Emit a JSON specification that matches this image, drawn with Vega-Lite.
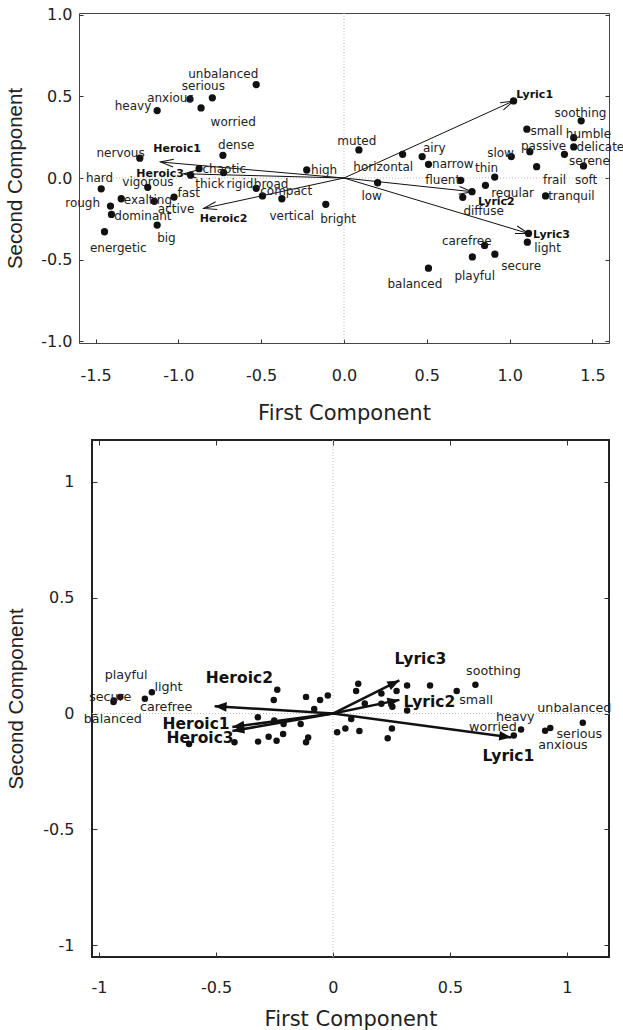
{
  "$schema": "https://vega.github.io/schema/vega-lite/v6.json",
  "padding": {"left": 5, "top": 6, "right": 0, "bottom": 0},
  "spacing": 14,
  "config": {
    "font": "DejaVu Sans",
    "view": {"stroke": null},
    "axis": {"grid": false, "domain": false, "labelFont": "DejaVu Sans", "labelColor": "#222", "tickColor": "#333", "titleColor": "#222", "titleFontWeight": "normal", "labelOverlap": false, "labelFlush": false}
  },
  "datasets": {
    "top": [
      {"w": "unbalanced", "x": -0.53, "y": 0.572, "lx": -0.729, "ly": 0.638},
      {"w": "serious", "x": -0.795, "y": 0.491, "lx": -0.849, "ly": 0.564},
      {"w": "anxious", "x": -0.93, "y": 0.483, "lx": -1.048, "ly": 0.491},
      {"w": "worried", "x": -0.863, "y": 0.429, "lx": -0.669, "ly": 0.344},
      {"w": "heavy", "x": -1.128, "y": 0.413, "lx": -1.274, "ly": 0.442},
      {"w": "dense", "x": -0.731, "y": 0.139, "lx": -0.651, "ly": 0.202},
      {"w": "nervous", "x": -1.233, "y": 0.121, "lx": -1.349, "ly": 0.153},
      {"w": "chaotic", "x": -0.875, "y": 0.057, "lx": -0.723, "ly": 0.055},
      {"w": "thick", "x": -0.926, "y": 0.017, "lx": -0.81, "ly": -0.039},
      {"w": "rigid", "x": -0.727, "y": 0.033, "lx": -0.628, "ly": -0.039},
      {"w": "broad", "x": -0.53, "y": -0.063, "lx": -0.44, "ly": -0.039},
      {"w": "compact", "x": -0.492, "y": -0.11, "lx": -0.349, "ly": -0.08},
      {"w": "vertical", "x": -0.375, "y": -0.127, "lx": -0.315, "ly": -0.233},
      {"w": "high", "x": -0.225, "y": 0.049, "lx": -0.12, "ly": 0.049},
      {"w": "hard", "x": -1.466, "y": -0.066, "lx": -1.476, "ly": 0.002},
      {"w": "vigorous", "x": -1.185, "y": -0.057, "lx": -1.184, "ly": -0.022},
      {"w": "fast", "x": -1.026, "y": -0.117, "lx": -0.937, "ly": -0.092},
      {"w": "exalting", "x": -1.345, "y": -0.127, "lx": -1.184, "ly": -0.135},
      {"w": "active", "x": -1.145, "y": -0.143, "lx": -1.014, "ly": -0.19},
      {"w": "rough", "x": -1.41, "y": -0.172, "lx": -1.578, "ly": -0.153},
      {"w": "dominant", "x": -1.404, "y": -0.223, "lx": -1.214, "ly": -0.233},
      {"w": "energetic", "x": -1.446, "y": -0.329, "lx": -1.363, "ly": -0.428},
      {"w": "big", "x": -1.128, "y": -0.288, "lx": -1.072, "ly": -0.37},
      {"w": "bright", "x": -0.11, "y": -0.161, "lx": -0.036, "ly": -0.253},
      {"w": "muted", "x": 0.09, "y": 0.172, "lx": 0.077, "ly": 0.227},
      {"w": "horizontal", "x": 0.354, "y": 0.145, "lx": 0.237, "ly": 0.069},
      {"w": "airy", "x": 0.472, "y": 0.131, "lx": 0.545, "ly": 0.186},
      {"w": "narrow", "x": 0.51, "y": 0.084, "lx": 0.657, "ly": 0.084},
      {"w": "fluent", "x": 0.705, "y": -0.014, "lx": 0.596, "ly": -0.014},
      {"w": "thin", "x": 0.91, "y": 0.006, "lx": 0.861, "ly": 0.063},
      {"w": "slow", "x": 1.01, "y": 0.131, "lx": 0.945, "ly": 0.153},
      {"w": "small", "x": 1.104, "y": 0.299, "lx": 1.223, "ly": 0.288},
      {"w": "passive", "x": 1.122, "y": 0.161, "lx": 1.205, "ly": 0.196},
      {"w": "humble", "x": 1.387, "y": 0.247, "lx": 1.476, "ly": 0.27},
      {"w": "soothing", "x": 1.432, "y": 0.35, "lx": 1.428, "ly": 0.399},
      {"w": "delicate", "x": 1.387, "y": 0.19, "lx": 1.548, "ly": 0.19},
      {"w": "serene", "x": 1.331, "y": 0.145, "lx": 1.482, "ly": 0.104},
      {"w": "soft", "x": 1.446, "y": 0.074, "lx": 1.462, "ly": -0.014},
      {"w": "frail", "x": 1.163, "y": 0.069, "lx": 1.271, "ly": -0.014},
      {"w": "tranquil", "x": 1.217, "y": -0.11, "lx": 1.373, "ly": -0.11},
      {"w": "regular", "x": 0.854, "y": -0.045, "lx": 1.018, "ly": -0.092},
      {"w": "diffuse", "x": 0.717, "y": -0.118, "lx": 0.843, "ly": -0.202},
      {"w": "light", "x": 1.107, "y": -0.393, "lx": 1.229, "ly": -0.428},
      {"w": "carefree", "x": 0.849, "y": -0.413, "lx": 0.741, "ly": -0.387},
      {"w": "playful", "x": 0.775, "y": -0.483, "lx": 0.789, "ly": -0.597},
      {"w": "secure", "x": 0.911, "y": -0.466, "lx": 1.07, "ly": -0.54},
      {"w": "balanced", "x": 0.51, "y": -0.552, "lx": 0.428, "ly": -0.648},
      {"w": "low", "x": 0.203, "y": -0.029, "lx": 0.167, "ly": -0.11},
      {"x": 1.024, "y": 0.472},
      {"x": 0.773, "y": -0.084},
      {"x": 1.114, "y": -0.339}
    ],
    "topvec": [
      {"v": "Heroic1", "x": -1.108, "y": 0.098, "lx": -1.008, "ly": 0.178},
      {"v": "Heroic2", "x": -0.847, "y": -0.186, "lx": -0.727, "ly": -0.253},
      {"v": "Heroic3", "x": -0.968, "y": 0.026, "lx": -1.11, "ly": 0.026},
      {"v": "Lyric1", "x": 1.024, "y": 0.472, "lx": 1.151, "ly": 0.509},
      {"v": "Lyric2", "x": 0.773, "y": -0.084, "lx": 0.92, "ly": -0.147},
      {"v": "Lyric3", "x": 1.114, "y": -0.34, "lx": 1.253, "ly": -0.35}
    ],
    "bot": [
      {"w": "secure", "x": -0.937, "y": 0.056, "lx": -0.952, "ly": 0.071},
      {"w": "balanced", "x": -0.938, "y": 0.05, "lx": -0.941, "ly": -0.023},
      {"w": "playful", "x": -0.909, "y": 0.071, "lx": -0.884, "ly": 0.165},
      {"w": "light", "x": -0.774, "y": 0.092, "lx": -0.703, "ly": 0.114},
      {"w": "carefree", "x": -0.804, "y": 0.064, "lx": -0.713, "ly": 0.027},
      {"w": "soothing", "x": 0.609, "y": 0.124, "lx": 0.686, "ly": 0.182},
      {"w": "small", "x": 0.529, "y": 0.097, "lx": 0.612, "ly": 0.059},
      {"w": "worried", "x": 0.773, "y": -0.095, "lx": 0.684, "ly": -0.059},
      {"w": "heavy", "x": 0.804, "y": -0.069, "lx": 0.779, "ly": -0.013},
      {"w": "anxious", "x": 0.907, "y": -0.074, "lx": 0.983, "ly": -0.135},
      {"w": "serious", "x": 0.929, "y": -0.062, "lx": 1.053, "ly": -0.088},
      {"w": "unbalanced", "x": 1.068, "y": -0.04, "lx": 1.032, "ly": 0.025},
      {"x": -0.615, "y": -0.131}, {"x": -0.421, "y": -0.124}, {"x": -0.321, "y": -0.016},
      {"x": -0.32, "y": -0.121}, {"x": -0.275, "y": -0.1}, {"x": -0.253, "y": 0.059},
      {"x": -0.238, "y": 0.103}, {"x": -0.251, "y": -0.03}, {"x": -0.211, "y": -0.045},
      {"x": -0.241, "y": -0.117}, {"x": -0.213, "y": -0.088}, {"x": -0.138, "y": -0.045},
      {"x": -0.115, "y": 0.072}, {"x": -0.08, "y": 0.02}, {"x": -0.055, "y": 0.059},
      {"x": -0.022, "y": 0.078}, {"x": -0.106, "y": -0.103}, {"x": -0.115, "y": -0.124},
      {"x": 0.018, "y": -0.081}, {"x": 0.053, "y": -0.064}, {"x": 0.078, "y": -0.023},
      {"x": 0.113, "y": -0.075}, {"x": 0.108, "y": 0.129}, {"x": 0.099, "y": 0.097},
      {"x": 0.136, "y": 0.043}, {"x": 0.207, "y": 0.087}, {"x": 0.207, "y": 0.042},
      {"x": 0.254, "y": 0.029}, {"x": 0.272, "y": 0.097}, {"x": 0.317, "y": 0.121},
      {"x": 0.317, "y": 0.013}, {"x": 0.415, "y": 0.121}, {"x": 0.252, "y": -0.064},
      {"x": 0.234, "y": -0.106}
    ],
    "botvec": [
      {"v": "Heroic1", "x": -0.43, "y": -0.058, "lx": -0.585, "ly": -0.045},
      {"v": "Heroic2", "x": -0.506, "y": 0.032, "lx": -0.4, "ly": 0.155},
      {"v": "Heroic3", "x": -0.43, "y": -0.075, "lx": -0.568, "ly": -0.106},
      {"v": "Lyric1", "x": 0.762, "y": -0.103, "lx": 0.75, "ly": -0.182},
      {"v": "Lyric2", "x": 0.284, "y": 0.059, "lx": 0.412, "ly": 0.049},
      {"v": "Lyric3", "x": 0.284, "y": 0.143, "lx": 0.374, "ly": 0.237}
    ]
  },
  "vconcat": [
    {
      "width": 530,
      "height": 330,
      "view": {"stroke": "#444", "strokeWidth": 1},
      "resolve": {"axis": {"x": "independent", "y": "independent"}},
      "layer": [
        {
          "data": {"values": [{"zero": 0}]},
          "mark": {"type": "rule", "color": "#bbb", "strokeDash": [1, 2], "strokeWidth": 1},
          "encoding": {"x": {"field": "zero", "type": "quantitative", "scale": {"domain": [-1.6, 1.6], "nice": false, "zero": false}, "axis": null}}
        },
        {
          "data": {"values": [{"zero": 0}]},
          "mark": {"type": "rule", "color": "#bbb", "strokeDash": [1, 2], "strokeWidth": 1},
          "encoding": {"y": {"field": "zero", "type": "quantitative", "scale": {"domain": [-1.01, 1.01], "nice": false, "zero": false}, "axis": null}}
        },
        {
          "data": {"name": "topvec"},
          "mark": {"type": "rule", "color": "#111", "strokeWidth": 1},
          "encoding": {
            "x": {"field": "x", "type": "quantitative", "scale": {"domain": [-1.6, 1.6], "nice": false, "zero": false}, "axis": null},
            "y": {"field": "y", "type": "quantitative", "scale": {"domain": [-1.01, 1.01], "nice": false, "zero": false},
                  "axis": {"orient": "right", "labels": false, "title": null, "values": [-1, -0.5, 0, 0.5, 1], "tickSize": -4}},
            "x2": {"datum": 0},
            "y2": {"datum": 0}
          }
        },
        {
          "data": {"name": "topvec"},
          "transform": [{"calculate": "-atan2(datum.y, datum.x) * 180 / PI", "as": "ang"}],
          "mark": {"type": "point", "shape": "M-1,-0.3L0,0L-1,0.3", "filled": false, "stroke": "#111", "strokeWidth": 1, "size": 676, "opacity": 1},
          "encoding": {
            "x": {"field": "x", "type": "quantitative", "scale": {"domain": [-1.6, 1.6], "nice": false, "zero": false}, "axis": null},
            "y": {"field": "y", "type": "quantitative", "scale": {"domain": [-1.01, 1.01], "nice": false, "zero": false}, "axis": null},
            "angle": {"field": "ang", "type": "quantitative", "scale": null}
          }
        },
        {
          "data": {"name": "top"},
          "mark": {"type": "circle", "color": "#111", "size": 53, "opacity": 1},
          "encoding": {
            "x": {"field": "x", "type": "quantitative", "scale": {"domain": [-1.6, 1.6], "nice": false, "zero": false},
                  "axis": {"orient": "bottom", "values": [-1.5, -1, -0.5, 0, 0.5, 1, 1.5], "labelExpr": "(datum.value < 0 ? '-' : '') + format(abs(datum.value), '.1f')", "tickSize": -4, "labelPadding": 28, "labelFontSize": 16, "title": "First Component", "titleFontSize": 21, "titlePadding": 19}},
            "y": {"field": "y", "type": "quantitative", "scale": {"domain": [-1.01, 1.01], "nice": false, "zero": false},
                  "axis": {"orient": "left", "values": [-1, -0.5, 0, 0.5, 1], "labelExpr": "(datum.value < 0 ? '-' : '') + format(abs(datum.value), '.1f')", "tickSize": -4, "labelPadding": 11, "labelFontSize": 16, "title": "Second Component", "titleFont": "Liberation Sans", "titleFontSize": 20.5, "titlePadding": 15}}
          }
        },
        {
          "data": {"name": "top"},
          "transform": [{"filter": "isValid(datum.w)"}],
          "mark": {"type": "text", "fontSize": 12, "color": "#222"},
          "encoding": {
            "x": {"field": "lx", "type": "quantitative", "scale": {"domain": [-1.6, 1.6], "nice": false, "zero": false}, "axis": null},
            "y": {"field": "ly", "type": "quantitative", "scale": {"domain": [-1.01, 1.01], "nice": false, "zero": false}, "axis": null},
            "text": {"field": "w"}
          }
        },
        {
          "data": {"name": "topvec"},
          "mark": {"type": "text", "fontSize": 11, "fontWeight": "bold", "color": "#111"},
          "encoding": {
            "x": {"field": "lx", "type": "quantitative", "scale": {"domain": [-1.6, 1.6], "nice": false, "zero": false}, "axis": null},
            "y": {"field": "ly", "type": "quantitative", "scale": {"domain": [-1.01, 1.01], "nice": false, "zero": false}, "axis": null},
            "text": {"field": "v"}
          }
        }
      ]
    },
    {
      "bounds": "flush",
      "spacing": 12,
      "hconcat": [
        {
          "width": 1,
          "height": 1,
          "data": {"values": []},
          "mark": {"type": "point", "opacity": 0}
        },
        {
          "width": 517,
          "height": 517,
          "view": {"stroke": "#222", "strokeWidth": 2},
          "resolve": {"axis": {"x": "independent", "y": "independent"}},
          "layer": [
            {
              "data": {"values": [{"zero": 0}]},
              "mark": {"type": "rule", "color": "#bbb", "strokeDash": [1, 2], "strokeWidth": 1},
              "encoding": {"x": {"field": "zero", "type": "quantitative", "scale": {"domain": [-1.03, 1.18], "nice": false, "zero": false}, "axis": null}}
            },
            {
              "data": {"values": [{"zero": 0}]},
              "mark": {"type": "rule", "color": "#bbb", "strokeDash": [1, 2], "strokeWidth": 1},
              "encoding": {"y": {"field": "zero", "type": "quantitative", "scale": {"domain": [-1.05, 1.18], "nice": false, "zero": false}, "axis": null}}
            },
            {
              "data": {"name": "botvec"},
              "mark": {"type": "rule", "color": "#111", "strokeWidth": 2.5},
              "encoding": {
                "x": {"field": "x", "type": "quantitative", "scale": {"domain": [-1.03, 1.18], "nice": false, "zero": false},
                      "axis": {"orient": "top", "labels": false, "title": null, "values": [-1, -0.5, 0, 0.5, 1], "tickSize": -5}},
                "y": {"field": "y", "type": "quantitative", "scale": {"domain": [-1.05, 1.18], "nice": false, "zero": false},
                      "axis": {"orient": "right", "labels": false, "title": null, "values": [-1, -0.5, 0, 0.5, 1], "tickSize": -5}},
                "x2": {"datum": 0},
                "y2": {"datum": 0}
              }
            },
            {
              "data": {"name": "botvec"},
              "transform": [{"calculate": "-atan2(datum.y, datum.x) * 180 / PI", "as": "ang"}],
              "mark": {"type": "point", "shape": "M-1,-0.4L0,0L-1,0.4Z", "filled": true, "color": "#111", "size": 576, "opacity": 1},
              "encoding": {
                "x": {"field": "x", "type": "quantitative", "scale": {"domain": [-1.03, 1.18], "nice": false, "zero": false}, "axis": null},
                "y": {"field": "y", "type": "quantitative", "scale": {"domain": [-1.05, 1.18], "nice": false, "zero": false}, "axis": null},
                "angle": {"field": "ang", "type": "quantitative", "scale": null}
              }
            },
            {
              "data": {"name": "bot"},
              "mark": {"type": "circle", "color": "#111", "size": 42, "opacity": 1},
              "encoding": {
                "x": {"field": "x", "type": "quantitative", "scale": {"domain": [-1.03, 1.18], "nice": false, "zero": false},
                      "axis": {"orient": "bottom", "values": [-1, -0.5, 0, 0.5, 1], "labelExpr": "(datum.value < 0 ? '-' : '') + format(abs(datum.value), '~g')", "tickSize": -5, "labelPadding": 27, "labelFontSize": 16, "title": "First Component", "titleFontSize": 21, "titlePadding": 13}},
                "y": {"field": "y", "type": "quantitative", "scale": {"domain": [-1.05, 1.18], "nice": false, "zero": false},
                      "axis": {"orient": "left", "values": [-1, -0.5, 0, 0.5, 1], "labelExpr": "(datum.value < 0 ? '-' : '') + format(abs(datum.value), '~g')", "tickSize": -5, "labelPadding": 23, "labelFontSize": 16, "title": "Second Component", "titleFont": "Liberation Sans", "titleFontSize": 20.5, "titlePadding": 16}}
              }
            },
            {
              "data": {"name": "bot"},
              "transform": [{"filter": "isValid(datum.w)"}],
              "mark": {"type": "text", "fontSize": 12.7, "color": "#222"},
              "encoding": {
                "x": {"field": "lx", "type": "quantitative", "scale": {"domain": [-1.03, 1.18], "nice": false, "zero": false}, "axis": null},
                "y": {"field": "ly", "type": "quantitative", "scale": {"domain": [-1.05, 1.18], "nice": false, "zero": false}, "axis": null},
                "text": {"field": "w"}
              }
            },
            {
              "data": {"name": "botvec"},
              "mark": {"type": "text", "fontSize": 15.5, "fontWeight": "bold", "color": "#111"},
              "encoding": {
                "x": {"field": "lx", "type": "quantitative", "scale": {"domain": [-1.03, 1.18], "nice": false, "zero": false}, "axis": null},
                "y": {"field": "ly", "type": "quantitative", "scale": {"domain": [-1.05, 1.18], "nice": false, "zero": false}, "axis": null},
                "text": {"field": "v"}
              }
            }
          ]
        }
      ]
    }
  ]
}
